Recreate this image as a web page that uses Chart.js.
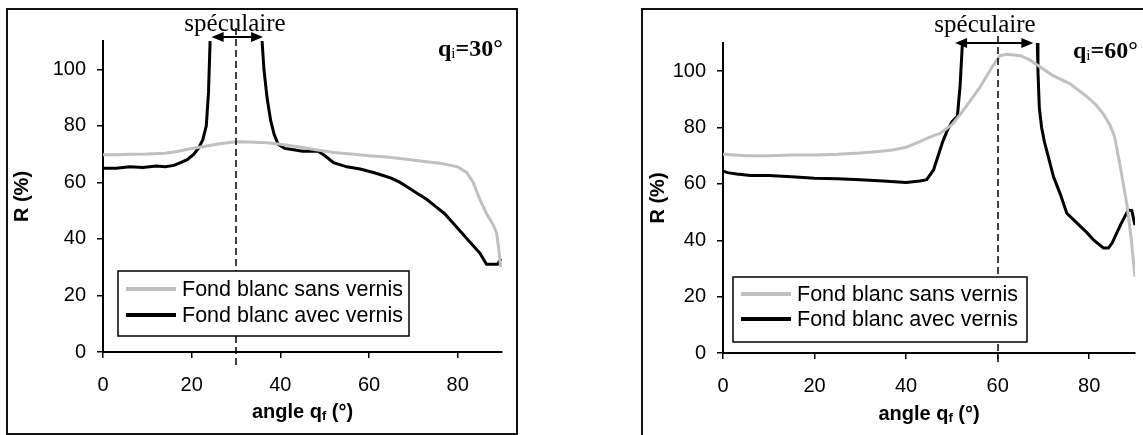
<!DOCTYPE html>
<html><head><meta charset="utf-8">
<script src="https://cdn.jsdelivr.net/npm/chart.js@4.4.0/dist/chart.umd.min.js"></script>
<style>
html,body{margin:0;padding:0;background:#fff;width:1143px;height:435px;overflow:hidden;position:relative;}
.box{position:absolute;border:2px solid #111;box-sizing:border-box;}
.holder{position:absolute;top:0;}
canvas{display:block;}
</style></head><body>
<div class="box" style="left:6px;top:8px;width:512px;height:427px"></div>
<div class="box" style="left:641px;top:8px;width:600px;height:500px"></div>
<div class="holder" style="left:0;width:560px;height:435px"><canvas id="c30" width="560" height="435"></canvas></div>
<div class="holder" style="left:580px;width:563px;height:435px"><canvas id="c60" width="563" height="435"></canvas></div>
<script>
// ---- data ----
const seriesLabels = ["Fond blanc sans vernis", "Fond blanc avec vernis"];
const xTicks = [0, 20, 40, 60, 80];
const yTicks = [0, 20, 40, 60, 80, 100];

// theta_i = 30°
const grayAngle30 = [0,3,6,10,14,17,20,23,26,29,31,34,37,40,44,48,52,56,60,64,68,72,76,80,82,83.5,85,86.5,88,88.8,89.3,89.7];
const grayR30     = [69.8,69.8,69.9,70,70.3,71,72,72.8,73.6,74.2,74.4,74.2,74,73.5,72.6,71.5,70.6,70,69.4,69,68.3,67.5,66.8,65.5,63.5,60,54,49,45,42,36,30];
const blackAngle30 = [0,3,6,9,12,14,16,17.5,19,20.5,21.5,22.5,23.3,23.8,24.2,30,35.8,36.3,37,37.8,38.6,39.5,41,43,45,47,48.5,50,52,55,58,61,63,65,67,69,71,73,75,77,79,81,83,85,86.5,88,89,89.8];
const blackR30     = [65,65,65.5,65.3,65.8,65.5,66,67,68,70,72,75,80,92,112,150,112,100,90,82,77,73.5,72,71.5,71,71,71,69.5,67,65.5,64.7,63.5,62.5,61.5,60,58,56,54,51.5,49,45.5,42,38.5,35,31,31,31,33];

// theta_i = 60°
const grayAngle60 = [0,5,10,15,20,25,30,34,37,40,43,45,47.5,50,52,54,56,57.5,59,60.5,62,65,67,69.3,72,75.8,79.5,81.5,83,84.5,85.5,86.8,88.3,89.2,90];
const grayR60     = [70.5,70,70,70.3,70.3,70.5,71,71.5,72,73,75,76.5,78,81,85,89.5,94,98,102,105.5,106,105.5,104,101.5,98.5,95.5,91,88,85,81,77,66,52,40,27];
const blackAngle60 = [0,1,3,6,10,15,20,25,30,35,40,43,44.5,46,47,48,49,50,51.2,51.8,52.3,52.6,60,68.6,68.8,69.1,69.6,70.2,71,72.2,73.7,75.1,77,79.5,81,83.1,84.2,85,86,87,88.5,89.3,90];
const blackR60     = [64.5,64,63.5,63,63,62.5,62,61.8,61.5,61,60.5,61,61.5,65,70,75,79,82,84,95,110,115,150,115,100,87,80,75,70,62.5,56.3,49.6,46.6,42.7,40,37.3,37.3,39,42.5,46,50.7,50.5,45.4];

const toPts = (xs, ys) => xs.map((x, i) => ({x: x, y: ys[i]}));

// ---- drawing helpers ----
function drawArrowHead(ctx, x, y, dir) {
  ctx.beginPath();
  ctx.moveTo(x, y);
  ctx.lineTo(x - dir * 12, y - 5);
  ctx.lineTo(x - dir * 12, y + 5);
  ctx.closePath();
  ctx.fill();
}
function drawRuns(ctx, runs, cx, baseline, align) {
  let total = 0;
  runs.forEach(r => { ctx.font = r[1]; total += ctx.measureText(r[0]).width; });
  let x = align === 'center' ? cx - total / 2 : cx;
  ctx.textAlign = 'left';
  ctx.textBaseline = 'alphabetic';
  runs.forEach(r => { ctx.font = r[1]; ctx.fillText(r[0], x, baseline + (r[2] || 0)); x += ctx.measureText(r[0]).width; });
}

function annotPlugin(cfg) {
  return {
    id: 'annot',
    afterDatasetsDraw(chart) {
      const ctx = chart.ctx, xs = chart.scales.x;
      const area = chart.chartArea;
      ctx.save();
      ctx.fillStyle = '#000';
      ctx.strokeStyle = '#000';
      // dashed specular line
      const dx = Math.round(xs.getPixelForValue(cfg.specAngle));
      ctx.setLineDash([7, 4]);
      ctx.lineWidth = 1.5;
      ctx.beginPath();
      ctx.moveTo(dx, cfg.dashTop);
      ctx.lineTo(dx, cfg.dashBottom);
      ctx.stroke();
      ctx.setLineDash([]);
      // double arrow
      const ax1 = xs.getPixelForValue(cfg.arrowFrom), ax2 = xs.getPixelForValue(cfg.arrowTo);
      const ay = cfg.arrowY;
      ctx.lineWidth = 2;
      ctx.beginPath();
      ctx.moveTo(ax1 + 10, ay);
      ctx.lineTo(ax2 - 10, ay);
      ctx.stroke();
      drawArrowHead(ctx, ax1, ay, -1);
      drawArrowHead(ctx, ax2, ay, 1);
      // "spéculaire"
      ctx.font = "25px 'Liberation Serif'";
      ctx.textAlign = 'center';
      ctx.textBaseline = 'alphabetic';
      ctx.fillText('spéculaire', cfg.specTextX, cfg.specTextY);
      // theta_i label
      drawRuns(ctx, [
        ['q', "bold 24px 'Liberation Serif'", 0],
        ['i', "15px 'Liberation Serif'", 2],
        ['=' + cfg.incidence + '°', "bold 24px 'Liberation Serif'", 0]
      ], cfg.thetaX, cfg.thetaY, 'left');
      // x axis title with subscript
      drawRuns(ctx, [
        ['angle q', "bold 20px 'Liberation Sans'", 0],
        ['f', "bold 13px 'Liberation Sans'", 2],
        [' (°)', "bold 20px 'Liberation Sans'", 0]
      ], (area.left + area.right) / 2, cfg.xTitleY, 'center');
      // legend
      const lg = cfg.legend;
      ctx.fillStyle = '#fff';
      ctx.fillRect(lg.x, lg.y, lg.w, lg.h);
      ctx.lineWidth = 1.5;
      ctx.strokeStyle = '#000';
      ctx.strokeRect(lg.x, lg.y, lg.w, lg.h);
      chart.data.datasets.forEach((ds, i) => {
        const yy = lg.y + lg.rows[i];
        ctx.strokeStyle = ds.borderColor;
        ctx.lineWidth = 4;
        ctx.beginPath();
        ctx.moveTo(lg.x + 8, yy);
        ctx.lineTo(lg.x + 58, yy);
        ctx.stroke();
        ctx.fillStyle = '#000';
        ctx.font = "21.5px 'Liberation Sans'";
        ctx.textAlign = 'left';
        ctx.textBaseline = 'middle';
        ctx.fillText(ds.label, lg.x + 64, yy + 1);
      });
      ctx.restore();
    }
  };
}

function makeChart(id, grayPts, blackPts, cfg) {
  const tickFont = {family: "'Liberation Sans'", size: 20};
  return new Chart(document.getElementById(id), {
    type: 'line',
    data: {
      datasets: [
        {label: seriesLabels[0], data: grayPts, borderColor: '#c0c0c0', borderWidth: 3, pointRadius: 0, tension: 0, fill: false},
        {label: seriesLabels[1], data: blackPts, borderColor: '#000000', borderWidth: 3, pointRadius: 0, tension: 0, fill: false}
      ]
    },
    options: {
      responsive: false,
      animation: false,
      devicePixelRatio: 1,
      events: [],
      layout: {padding: {top: cfg.padTop, right: cfg.padRight, left: 0, bottom: 0}},
      plugins: {legend: {display: false}, tooltip: {enabled: false}, title: {display: false}},
      scales: {
        x: {
          type: 'linear', min: 0, max: 90,
          afterBuildTicks: s => { s.ticks = xTicks.map(v => ({value: v})); },
          afterFit: s => { s.height = cfg.xAxisH; },
          grid: {drawOnChartArea: false, drawTicks: true, tickLength: 6, color: '#000', lineWidth: 1.5},
          border: {display: true, color: '#000', width: 2},
          ticks: {color: '#000', font: tickFont, padding: 15, maxRotation: 0, autoSkip: false}
        },
        y: {
          type: 'linear', min: 0, max: 110,
          afterBuildTicks: s => { s.ticks = yTicks.map(v => ({value: v})); },
          afterFit: s => { s.width = cfg.yAxisW; },
          grid: {drawOnChartArea: false, drawTicks: true, tickLength: 6, color: '#000', lineWidth: 1.5},
          border: {display: true, color: '#000', width: 2},
          ticks: {color: '#000', font: tickFont, padding: 11, autoSkip: false},
          title: {display: true, text: 'R (%)', color: '#000', font: {family: "'Liberation Sans'", size: 20, weight: 'bold'}, padding: {top: cfg.yTitlePad, bottom: 0}}
        }
      }
    },
    plugins: [annotPlugin(cfg)]
  });
}

makeChart('c30', toPts(grayAngle30, grayR30), toPts(blackAngle30, blackR30), {
  padTop: 41, padRight: 58, xAxisH: 83, yAxisW: 103, yTitlePad: 10,
  specAngle: 30, dashTop: 28, dashBottom: 369,
  arrowFrom: 24.5, arrowTo: 36.1, arrowY: 37,
  specTextX: 235, specTextY: 31,
  incidence: 30, thetaX: 438, thetaY: 56,
  xTitleY: 418,
  legend: {x: 118, y: 271, w: 291, h: 65, rows: [18, 44]}
});
makeChart('c60', toPts(grayAngle60, grayR60), toPts(blackAngle60, blackR60), {
  padTop: 43, padRight: 8, xAxisH: 82, yAxisW: 143, yTitlePad: 66,
  specAngle: 60, dashTop: 36, dashBottom: 362,
  arrowFrom: 50.7, arrowTo: 67.8, arrowY: 43,
  specTextX: 405, specTextY: 32,
  incidence: 60, thetaX: 493, thetaY: 58,
  xTitleY: 420,
  legend: {x: 153, y: 277, w: 294, h: 65, rows: [17, 42]}
});
</script>
</body></html>
